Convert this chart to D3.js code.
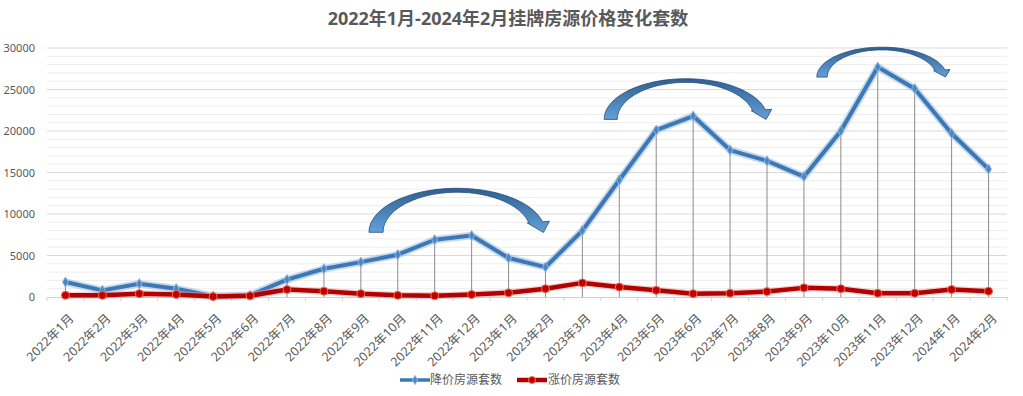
<!DOCTYPE html>
<html>
<head>
<meta charset="utf-8">
<script src="https://cdn.jsdelivr.net/npm/d3@7/dist/d3.min.js"></script>
<style>
  body { margin: 0; background: #fff; }
  svg text { font-family: "Noto Sans", "Noto Sans CJK SC", sans-serif; fill: #595959; }
</style>
</head>
<body>
<div id="chart"></div>
<script>
var months = ["2022年1月","2022年2月","2022年3月","2022年4月","2022年5月","2022年6月",
  "2022年7月","2022年8月","2022年9月","2022年10月","2022年11月","2022年12月",
  "2023年1月","2023年2月","2023年3月","2023年4月","2023年5月","2023年6月",
  "2023年7月","2023年8月","2023年9月","2023年10月","2023年11月","2023年12月",
  "2024年1月","2024年2月"];

// 降价房源套数
var downCounts = [1800, 800, 1600, 1000, 100, 200, 2100, 3400, 4200, 5100, 6900, 7400,
  4700, 3600, 8000, 14100, 20100, 21800, 17700, 16400, 14500, 20000, 27700, 25100,
  19700, 15400];
// 涨价房源套数
var upCounts = [200, 200, 400, 300, 50, 150, 900, 700, 400, 200, 150, 300,
  500, 1000, 1700, 1200, 800, 400, 450, 650, 1100, 1000, 450, 450, 900, 700];

var yTicks = [0, 5000, 10000, 15000, 20000, 25000, 30000];
var seriesNames = ["降价房源套数", "涨价房源套数"];

// curved arrows: [left category pos, right category pos, base value, top value]
var arrows = [
  [8.22, 12.99, 7800, 13100],
  [14.59, 19.02, 21400, 26300],
  [20.35, 23.87, 26500, 30100]
];

var W = 1023, H = 396;
var margin = {top: 48, right: 16, bottom: 99, left: 47},
    width = W - margin.left - margin.right,
    height = H - margin.top - margin.bottom;

var svg = d3.select("#chart").append("svg")
  .attr("width", W).attr("height", H);

var defs = svg.append("defs");
var grad = defs.append("linearGradient").attr("id", "arrowGrad")
  .attr("x1", 0).attr("y1", 0).attr("x2", 0).attr("y2", 1);
grad.append("stop").attr("offset", "0%").attr("stop-color", "#2f5f92");
grad.append("stop").attr("offset", "100%").attr("stop-color", "#62a0d8");

svg.append("text")
  .attr("x", 508).attr("y", 25)
  .attr("text-anchor", "middle")
  .style("font-size", "18px").style("font-weight", "bold")
  .text("2022年1月-2024年2月挂牌房源价格变化套数");

var g = svg.append("g")
  .attr("transform", "translate(" + margin.left + "," + margin.top + ")");

var x = d3.scaleBand().domain(months).range([0, width]);
var y = d3.scaleLinear().domain([0, 30000]).range([height, 0]);
var cx = function(i) { return x(months[i]) + x.bandwidth() / 2; };
var xPos = function(p) { return x.step() * (p + 0.5); };

// minor grid every 1000
g.append("g").selectAll("line")
  .data(d3.range(1000, 30000, 1000).filter(function(v) { return v % 5000 != 0; }))
  .enter().append("line")
    .attr("x1", 0).attr("x2", width)
    .attr("y1", function(d) { return y(d); }).attr("y2", function(d) { return y(d); })
    .attr("stroke", "#ededed").attr("stroke-width", 1);

g.append("g").selectAll("line")
  .data(yTicks.slice(1))
  .enter().append("line")
    .attr("x1", 0).attr("x2", width)
    .attr("y1", function(d) { return y(d); }).attr("y2", function(d) { return y(d); })
    .attr("stroke", "#d9d9d9").attr("stroke-width", 1);

var yAxis = g.append("g")
  .call(d3.axisLeft(y).tickValues(yTicks).tickFormat(d3.format("d")).tickSize(0).tickPadding(12));
yAxis.select(".domain").remove();
yAxis.selectAll("text").style("font-size", "11px").style("fill", "#595959");

// x axis line + ticks
var xAxis = g.append("g")
  .attr("transform", "translate(0," + height + ")")
  .call(d3.axisBottom(x).tickSize(0).tickFormat(""));
xAxis.select(".domain").attr("stroke", "#d0d0d0");
g.append("g").selectAll("line")
  .data(d3.range(months.length + 1))
  .enter().append("line")
    .attr("x1", function(d) { return x.step() * d; })
    .attr("x2", function(d) { return x.step() * d; })
    .attr("y1", height).attr("y2", height + 4)
    .attr("stroke", "#d0d0d0");

g.append("g").selectAll("text")
  .data(months)
  .enter().append("text")
    .attr("transform", function(d, i) {
      return "translate(" + (cx(i) + 3) + "," + (height + 16) + ") rotate(-45)";
    })
    .attr("text-anchor", "end")
    .attr("dy", "0.7em")
    .style("font-size", "12.5px")
    .text(function(d) { return d; });

// drop lines
g.append("g").selectAll("line")
  .data(months)
  .enter().append("line")
    .attr("x1", function(d, i) { return cx(i); })
    .attr("x2", function(d, i) { return cx(i); })
    .attr("y1", function(d, i) { return y(Math.max(downCounts[i], upCounts[i])); })
    .attr("y2", height)
    .attr("stroke", "#8c8c8c").attr("stroke-width", 1);

var line = d3.line()
  .x(function(d, i) { return cx(i); })
  .y(function(d) { return y(d); });

// blue series
g.append("path").datum(downCounts)
  .attr("d", line).attr("fill", "none")
  .attr("stroke", "#9ebfe3").attr("stroke-width", 7.5).attr("opacity", 0.6)
  .attr("stroke-linejoin", "round");
g.append("path").datum(downCounts)
  .attr("d", line).attr("fill", "none")
  .attr("stroke", "#3d78b5").attr("stroke-width", 4)
  .attr("stroke-linejoin", "round");
g.append("g").selectAll("path")
  .data(downCounts)
  .enter().append("path")
    .attr("transform", function(d, i) { return "translate(" + cx(i) + "," + y(d) + ")"; })
    .attr("d", d3.symbol().type(d3.symbolDiamond).size(30))
    .attr("fill", "#4a86c5").attr("stroke", "#8fb6e0").attr("stroke-width", 1);

// red series
g.append("path").datum(upCounts)
  .attr("d", line).attr("fill", "none")
  .attr("stroke", "#e8a0a0").attr("stroke-width", 7).attr("opacity", 0.5)
  .attr("stroke-linejoin", "round");
g.append("path").datum(upCounts)
  .attr("d", line).attr("fill", "none")
  .attr("stroke", "#b30000").attr("stroke-width", 4.5)
  .attr("stroke-linejoin", "round");
g.append("g").selectAll("circle")
  .data(upCounts)
  .enter().append("circle")
    .attr("cx", function(d, i) { return cx(i); })
    .attr("cy", function(d) { return y(d); })
    .attr("r", 4)
    .attr("fill", "#c00000").attr("stroke", "#f07050").attr("stroke-width", 1);

// curved arrows
function arrowPath(a) {
  var x0 = xPos(a[0]), x1 = xPos(a[1]);
  var cy = y(a[2]), ry = cy - y(a[3]);
  var rx = (x1 - x0) / 2, ccx = x0 + rx;
  var rxi = rx * 0.84, ryi = ry * 0.91;
  var tE = 0.24, n = 40, pts = [], t, k;
  for (k = 0; k <= n; k++) {
    t = Math.PI - (Math.PI - tE) * k / n;
    pts.push([ccx + rx * Math.cos(t), cy - ry * Math.sin(t)]);
  }
  var po = [ccx + rx * Math.cos(tE), cy - ry * Math.sin(tE)];
  var pi = [ccx + rxi * Math.cos(tE), cy - ryi * Math.sin(tE)];
  var dx = po[0] - pi[0], dy = po[1] - pi[1];
  var bo = [po[0] + dx * 0.5, po[1] + dy * 0.5];
  var bi = [pi[0] - dx * 0.12, pi[1] - dy * 0.12];
  var tx = rx * Math.sin(tE), ty = ry * Math.cos(tE), tl = Math.sqrt(tx * tx + ty * ty);
  var hl = ry * 0.26;
  var mid = [(bo[0] + bi[0]) / 2, (bo[1] + bi[1]) / 2];
  var tip = [mid[0] + hl * tx / tl, mid[1] + hl * ty / tl];
  pts.push(bo, tip, bi);
  for (k = 0; k <= n; k++) {
    t = tE + (Math.PI - tE) * k / n;
    pts.push([ccx + rxi * Math.cos(t), cy - ryi * Math.sin(t)]);
  }
  return "M" + pts.map(function(p) { return p[0].toFixed(1) + "," + p[1].toFixed(1); }).join("L") + "Z";
}

g.append("g").selectAll("path")
  .data(arrows)
  .enter().append("path")
    .attr("d", arrowPath)
    .attr("fill", "url(#arrowGrad)")
    .attr("stroke", "#264d78").attr("stroke-width", 0.8);

// legend
var legend = svg.append("g").attr("transform", "translate(0,380)");
legend.append("line").attr("x1", 400).attr("x2", 430).attr("y1", 0).attr("y2", 0)
  .attr("stroke", "#3d78b5").attr("stroke-width", 3.5);
legend.append("path").attr("transform", "translate(415,0)")
  .attr("d", d3.symbol().type(d3.symbolDiamond).size(24))
  .attr("fill", "#4a86c5").attr("stroke", "#8fb6e0");
legend.append("text").attr("x", 430).attr("y", 0).attr("dy", "0.35em")
  .style("font-size", "12px").text(seriesNames[0]);
legend.append("line").attr("x1", 517).attr("x2", 547).attr("y1", 0).attr("y2", 0)
  .attr("stroke", "#b30000").attr("stroke-width", 4.5);
legend.append("circle").attr("cx", 532).attr("cy", 0).attr("r", 3.5)
  .attr("fill", "#c00000").attr("stroke", "#f07050");
legend.append("text").attr("x", 548).attr("y", 0).attr("dy", "0.35em")
  .style("font-size", "12px").text(seriesNames[1]);
</script>
</body>
</html>
